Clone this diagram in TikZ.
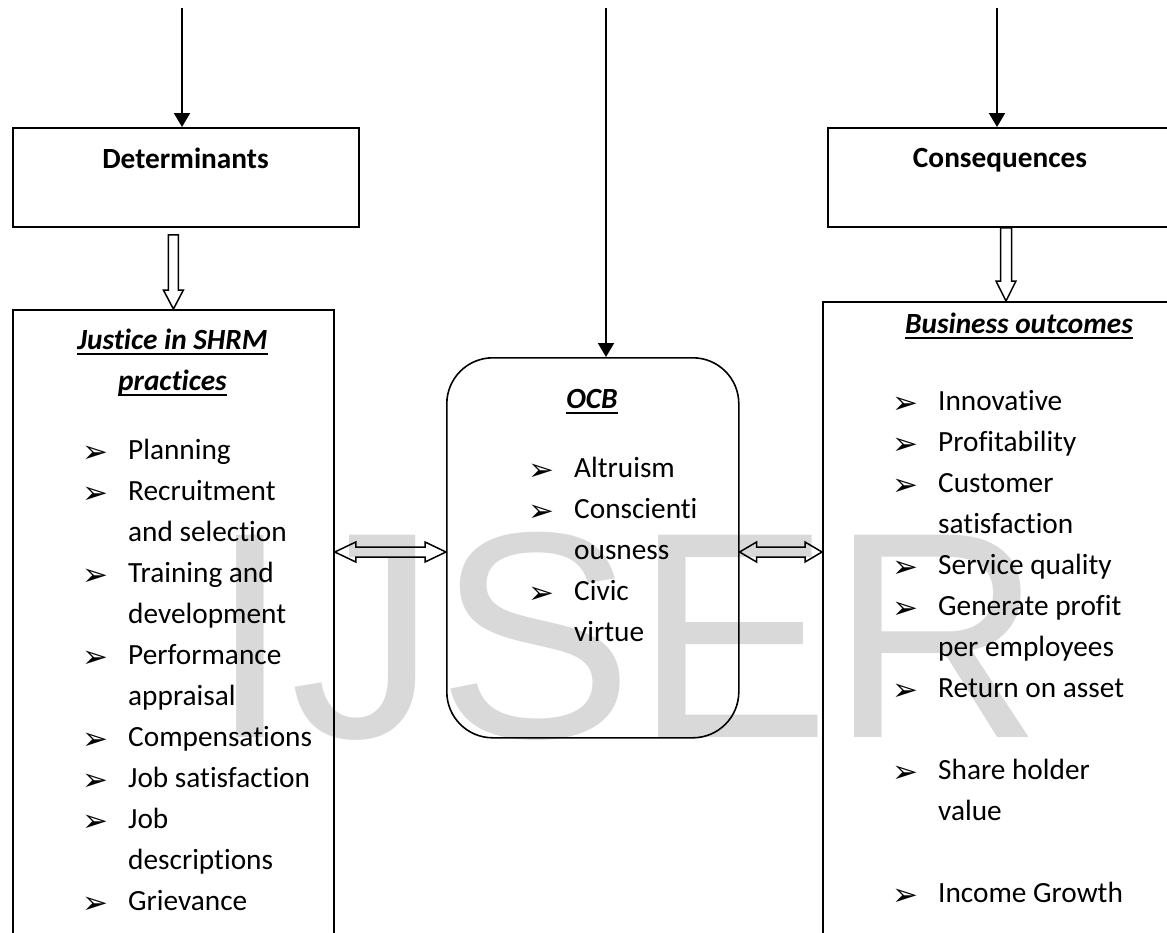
\documentclass[tikz,border=0pt]{standalone}
\usepackage{fontspec}
\setmainfont[Ligatures={NoCommon}]{Carlito}
\newfontfamily\bulfont{DejaVu Sans}
\newfontfamily\wmfont{Liberation Sans}
\usetikzlibrary{arrows.meta,calc}
\definecolor{wmgray}{RGB}{217,217,217}
\newsavebox{\ulbox}
\newcommand\myul[1]{\sbox{\ulbox}{#1}\leavevmode\rlap{\rule[-5.6pt]{\wd\ulbox}{1.6pt}}\usebox{\ulbox}}
\newcommand\bul{\makebox[46pt][l]{\raisebox{-3pt}{\bulfont\fontsize{31}{31}\selectfont ➢}}}
\newcommand\ttl[1]{\myul{\textbf{\textit{#1}}}}
\newcommand\bodyfont{\fontsize{29.3}{41}\selectfont}
\begin{document}
\begin{tikzpicture}[x=1pt,y=-1pt,
  box/.style={draw, line width=1.8pt, inner sep=0, anchor=north west},
  txt/.style={inner sep=0, font=\bodyfont},
  toparrow/.style={line width=2pt, -{Triangle[length=14pt,width=16pt]}},
  hollow/.style={draw, line width=1.5pt, line join=miter}]
\useasboundingbox (0,0) rectangle (1167,932);
\fill[white] (0,0) rectangle (1167,932);
\clip (0,0) rectangle (1167,932);
% watermark
\node[anchor=base west, inner sep=0, text=wmgray, font=\wmfont\fontsize{294}{294}\selectfont] (wm) at (209,737) {IJSER};
% boxes
\node[box, minimum width=346, minimum height=99] (det) at (12,127) {};
\node[box, minimum width=321, minimum height=700] (jus) at (12,309) {};
\node[box, minimum width=346, minimum height=99] (con) at (827,127) {};
\node[box, minimum width=398, minimum height=700] (bus) at (822,301) {};
\node[box, line width=1.6pt, rounded corners=46, minimum width=292, minimum height=380] (ocb) at (446,357) {};
% box texts
\node[txt, anchor=base] (detT) at (185.5,168) {\textbf{Determinants}};
\node[txt, anchor=base] (conT) at (1000,167) {\textbf{Consequences}};
\node[txt, anchor=base] (jusT) at (172.5,349) {\begin{tabular}[t]{@{}c@{}}\ttl{Justice in SHRM}\\\ttl{practices}\end{tabular}};
\node[txt, anchor=base] (ocbT) at (592,408) {\ttl{OCB}};
\node[txt, anchor=base] (busT) at (1019,333) {\ttl{Business outcomes}};
\node[txt, anchor=base west] (jusL) at (82,459) {\begin{tabular}[t]{@{}l@{}l@{}}
\bul & Planning\\
\bul & Recruitment\\
 & and selection\\
\bul & Training and\\
 & development\\
\bul & Performance\\
 & appraisal\\
\bul & Compensations\\
\bul & Job satisfaction\\
\bul & Job\\
 & descriptions\\
\bul & Grievance
\end{tabular}};
\node[txt, anchor=base west] (ocbL) at (528,477) {\begin{tabular}[t]{@{}l@{}l@{}}
\bul & Altruism\\
\bul & Conscienti\\
 & ousness\\
\bul & Civic\\
 & virtue
\end{tabular}};
\node[txt, anchor=base west] (busL) at (892,410) {\begin{tabular}[t]{@{}l@{}l@{}}
\bul & Innovative\\
\bul & Profitability\\
\bul & Customer\\
 & satisfaction\\
\bul & Service quality\\
\bul & Generate profit\\
 & per employees\\
\bul & Return on asset\\
 & \\
\bul & Share holder\\
 & value\\
 & \\
\bul & Income Growth
\end{tabular}};
% top arrows
\coordinate (t1) at (182,8);
\coordinate (t2) at (606,8);
\coordinate (t3) at (997,8);
\draw[toparrow] (t1) -- (t1 |- det.north);
\draw[toparrow] (t2) -- (t2 |- ocb.north);
\draw[toparrow] (t3) -- (t3 |- con.north);
% hollow vertical arrows
\coordinate (v1T) at ($(jus.north |- det.south)+(0,7)$);
\coordinate (v1B) at (jus.north);
\draw[hollow] ($(v1T)+(-5,0)$) -- ($(v1B)+(-5,-19)$) -- ++(-5,0) -- (v1B) -- ++(10,-19) -- ++(-5,0) -- ($(v1T)+(5,0)$) -- cycle;
\coordinate (c2) at (1006,0);
\coordinate (v2T) at (c2 |- con.south);
\coordinate (v2B) at (c2 |- bus.north);
\draw[hollow] ($(v2T)+(-5.5,0)$) -- ($(v2B)+(-5.5,-20)$) -- ++(-4.5,0) -- (v2B) -- ++(10,-20) -- ++(-4.5,0) -- ($(v2T)+(5.5,0)$) -- cycle;
% hollow double arrows
\coordinate (ya) at (0,552);
\coordinate (L1) at (jus.east |- ya);
\coordinate (R1) at (ocb.west |- ya);
\coordinate (L2) at (ocb.east |- ya);
\coordinate (R2) at (bus.west |- ya);
\draw[hollow] (L1) -- ++(21,-10) -- ++(0,5) -- ($(R1)+(-21,-5)$) -- ++(0,-5) -- (R1) -- ++(-21,10) -- ++(0,-5) -- ($(L1)+(21,5)$) -- ++(0,5) -- cycle;
\draw[hollow] (L2) -- ++(17,-10) -- ++(0,5) -- ($(R2)+(-17,-5)$) -- ++(0,-5) -- (R2) -- ++(-17,10) -- ++(0,-5) -- ($(L2)+(17,5)$) -- ++(0,5) -- cycle;
\end{tikzpicture}
\end{document}
